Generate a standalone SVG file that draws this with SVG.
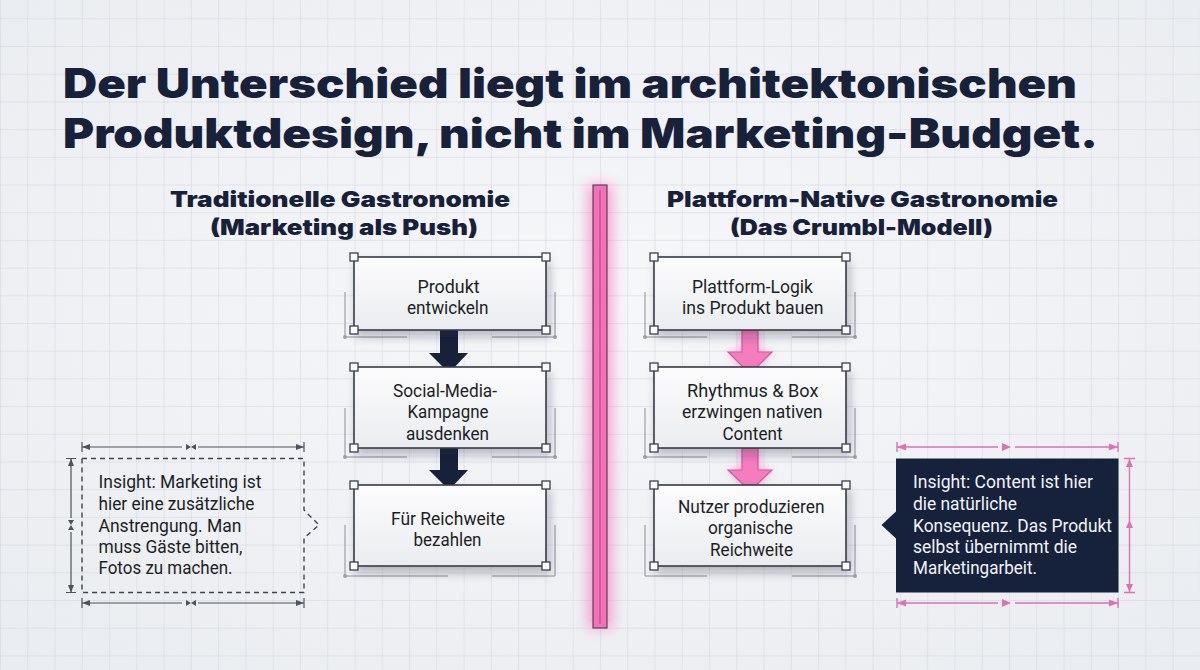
<svg xmlns="http://www.w3.org/2000/svg" width="1200" height="670" viewBox="0 0 1200 670">
<defs>
<pattern id="grid" width="27.27" height="27.7" patternUnits="userSpaceOnUse" x="0" y="18.3">
<path d="M0 0H27.27M0 0V27.7" fill="none" stroke="#d0d4db" stroke-width="1"/>
</pattern>
<radialGradient id="bg" cx="50%" cy="45%" r="75%">
<stop offset="0" stop-color="#f6f7f9"/>
<stop offset="1" stop-color="#e9ecf0"/>
</radialGradient>
<linearGradient id="boxfill" x1="0" y1="0" x2="0" y2="1">
<stop offset="0" stop-color="#fcfcfd"/>
<stop offset="1" stop-color="#eaecef"/>
</linearGradient>
<filter id="shadow" x="-20%" y="-20%" width="150%" height="160%">
<feDropShadow dx="3" dy="6" stdDeviation="5" flood-color="#1a2238" flood-opacity="0.28"/>
</filter>
<filter id="glow" x="-200%" y="-10%" width="500%" height="120%">
<feGaussianBlur stdDeviation="7"/>
</filter>
<filter id="aglow" x="-50%" y="-50%" width="200%" height="200%">
<feGaussianBlur stdDeviation="4"/>
</filter>
<style>
.title{font-family:Inter,"Liberation Sans",sans-serif;font-weight:900;font-size:41px;fill:#18213a}
.sub{font-family:Inter,"Liberation Sans",sans-serif;font-weight:900;font-size:21.5px;fill:#18213a}
.bt{font-family:Roboto,"Liberation Sans",sans-serif;font-size:19px;fill:#1c1f26}
.it{font-family:Roboto,"Liberation Sans",sans-serif;font-size:19px;fill:#1c1f26}
.itw{font-family:Roboto,"Liberation Sans",sans-serif;font-size:19px;fill:#f2f4f8}
.box{fill:url(#boxfill);stroke:#363b46;stroke-width:1.6}
.h{fill:#fafafa;stroke:#3a3f4a;stroke-width:1.3}
.dim{fill:none;stroke:#8a8f98;stroke-width:1}
.dimc{fill:#9aa0a8}
.gd{fill:none;stroke:#4d535e;stroke-width:1.2}
.gdf{fill:#4d535e}
.pd{fill:none;stroke:#e070b0;stroke-width:1.4}
.pdf{fill:#e070b0}
</style>
</defs>
<rect width="1200" height="670" fill="url(#bg)"/>
<rect width="1200" height="670" fill="url(#grid)"/>

<g id="title">
<text class="title" x="63" y="98" textLength="1014" lengthAdjust="spacingAndGlyphs">Der Unterschied liegt im architektonischen</text>
<text class="title" x="63" y="148" textLength="1035" lengthAdjust="spacingAndGlyphs">Produktdesign, nicht im Marketing-Budget.</text>
</g>

<g id="heading-left">
<text class="sub" x="170" y="206.5" textLength="340" lengthAdjust="spacingAndGlyphs">Traditionelle Gastronomie</text>
<text class="sub" x="210" y="235" textLength="268" lengthAdjust="spacingAndGlyphs">(Marketing als Push)</text>
</g>
<g id="heading-right">
<text class="sub" x="667" y="207" textLength="391" lengthAdjust="spacingAndGlyphs">Plattform-Native Gastronomie</text>
<text class="sub" x="730" y="235" textLength="263" lengthAdjust="spacingAndGlyphs">(Das Crumbl-Modell)</text>
</g>

<g id="divider">
<rect x="588" y="185" width="24" height="443" fill="#f26ab4" opacity="0.6" filter="url(#glow)"/>
<rect x="593" y="185" width="14" height="443" fill="#f072b8" stroke="#4a2a3d" stroke-width="1"/>
<line x1="600" y1="190" x2="600" y2="624" stroke="#d84a98" stroke-width="1.5"/>
</g>

<g id="decor-dimensions">
<path class="dim" d="M345 292V337H407M555 292V337H492"/>
<path class="dim" d="M345 408V457H407M555 408V457H492"/>
<path class="dim" d="M345 525V576H448M555 525V576H492"/>
<path class="dim" d="M645 292V337H707M855 292V337H792"/>
<path class="dim" d="M645 408V457H707M855 408V457H792"/>
<path class="dim" d="M645 525V576H707M855 525V576H792"/>
<g class="dimc">
<circle cx="345" cy="337" r="2"/><circle cx="555" cy="337" r="2"/>
<circle cx="345" cy="457" r="2"/><circle cx="555" cy="457" r="2"/>
<circle cx="345" cy="576" r="2"/>
<circle cx="645" cy="337" r="2"/><circle cx="855" cy="337" r="2"/>
<circle cx="645" cy="457" r="2"/><circle cx="855" cy="457" r="2"/>
<circle cx="855" cy="576" r="2"/>
</g>
</g>

<g id="connectors">
<path d="M440 330H458V353H468L449 373L429 353H440Z" fill="#18213a"/>
<path d="M440 448H458V470H468L449 490L429 470H440Z" fill="#18213a"/>
<path d="M742 330H758V352H772L750 374L728 352H742Z" fill="#f26ab4" opacity="0.6" filter="url(#aglow)"/>
<path d="M742 448H758V470H772L750 491L728 470H742Z" fill="#f26ab4" opacity="0.6" filter="url(#aglow)"/>
<path d="M742 330H758V352H772L750 374L728 352H742Z" fill="#f47cbf" stroke="#d9559f" stroke-width="1.2"/>
<path d="M742 448H758V470H772L750 491L728 470H742Z" fill="#f47cbf" stroke="#d9559f" stroke-width="1.2"/>
</g>

<g id="node-l1">
<rect class="box" x="354" y="257" width="192" height="73" filter="url(#shadow)"/>
<rect class="h" x="350" y="253" width="8" height="8"/><rect class="h" x="542" y="253" width="8" height="8"/>
<rect class="h" x="350" y="326" width="8" height="8"/><rect class="h" x="542" y="326" width="8" height="8"/>
<text class="bt" x="417.5" y="292.5" textLength="62" lengthAdjust="spacingAndGlyphs">Produkt</text>
<text class="bt" x="407" y="314" textLength="81.5" lengthAdjust="spacingAndGlyphs">entwickeln</text>
</g>
<g id="node-l2">
<rect class="box" x="354" y="367" width="192" height="81" filter="url(#shadow)"/>
<rect class="h" x="350" y="363" width="8" height="8"/><rect class="h" x="542" y="363" width="8" height="8"/>
<rect class="h" x="350" y="444" width="8" height="8"/><rect class="h" x="542" y="444" width="8" height="8"/>
<text class="bt" x="393" y="396.5" textLength="104" lengthAdjust="spacingAndGlyphs">Social-Media-</text>
<text class="bt" x="407.5" y="418" textLength="81" lengthAdjust="spacingAndGlyphs">Kampagne</text>
<text class="bt" x="406" y="439.5" textLength="83" lengthAdjust="spacingAndGlyphs">ausdenken</text>
</g>
<g id="node-l3">
<rect class="box" x="354" y="485" width="192" height="81" filter="url(#shadow)"/>
<rect class="h" x="350" y="481" width="8" height="8"/><rect class="h" x="542" y="481" width="8" height="8"/>
<rect class="h" x="350" y="562" width="8" height="8"/><rect class="h" x="542" y="562" width="8" height="8"/>
<text class="bt" x="391" y="524.5" textLength="114" lengthAdjust="spacingAndGlyphs">Für Reichweite</text>
<text class="bt" x="413.5" y="546" textLength="68" lengthAdjust="spacingAndGlyphs">bezahlen</text>
</g>

<g id="node-r1">
<rect class="box" x="654" y="257" width="192" height="73" filter="url(#shadow)"/>
<rect class="h" x="650" y="253" width="8" height="8"/><rect class="h" x="842" y="253" width="8" height="8"/>
<rect class="h" x="650" y="326" width="8" height="8"/><rect class="h" x="842" y="326" width="8" height="8"/>
<text class="bt" x="692" y="292.5" textLength="121" lengthAdjust="spacingAndGlyphs">Plattform-Logik</text>
<text class="bt" x="682" y="314" textLength="141.5" lengthAdjust="spacingAndGlyphs">ins Produkt bauen</text>
</g>
<g id="node-r2">
<rect class="box" x="654" y="367" width="192" height="81" filter="url(#shadow)"/>
<rect class="h" x="650" y="363" width="8" height="8"/><rect class="h" x="842" y="363" width="8" height="8"/>
<rect class="h" x="650" y="444" width="8" height="8"/><rect class="h" x="842" y="444" width="8" height="8"/>
<text class="bt" x="687" y="396.5" textLength="131.5" lengthAdjust="spacingAndGlyphs">Rhythmus &amp; Box</text>
<text class="bt" x="682" y="418" textLength="140.5" lengthAdjust="spacingAndGlyphs">erzwingen nativen</text>
<text class="bt" x="722.5" y="439.5" textLength="60" lengthAdjust="spacingAndGlyphs">Content</text>
</g>
<g id="node-r3">
<rect class="box" x="654" y="485" width="192" height="81" filter="url(#shadow)"/>
<rect class="h" x="650" y="481" width="8" height="8"/><rect class="h" x="842" y="481" width="8" height="8"/>
<rect class="h" x="650" y="562" width="8" height="8"/><rect class="h" x="842" y="562" width="8" height="8"/>
<text class="bt" x="678" y="512.5" textLength="146.5" lengthAdjust="spacingAndGlyphs">Nutzer produzieren</text>
<text class="bt" x="708" y="534" textLength="85" lengthAdjust="spacingAndGlyphs">organische</text>
<text class="bt" x="710" y="555.5" textLength="83" lengthAdjust="spacingAndGlyphs">Reichweite</text>
</g>

<g id="insight-left">
<path d="M82 458.5H304V510L319 525L304 538V592.5H82Z" fill="none" stroke="#3f4550" stroke-width="1.4" stroke-dasharray="5 4"/>
<path class="gd" d="M82 447H182M198 447H304M82 442V452M304 442V452"/>
<path class="gdf" d="M82 447L90 444V450ZM304 447L296 444V450ZM186 444L191 447L186 450ZM196 444L191 447L196 450Z"/>
<path class="gd" d="M82 603H182M198 603H304M82 598V608M304 598V608"/>
<path class="gdf" d="M82 603L90 600V606ZM304 603L296 600V606ZM186 600L191 603L186 606ZM196 600L191 603L196 606Z"/>
<path class="gd" d="M71 458.5V518M71 532V592.5M66 458.5H76M66 592.5H76"/>
<path class="gdf" d="M71 458.5L68 466H74ZM71 592.5L68 585H74ZM68 520L71 525L74 520ZM68 530L71 525L74 530Z"/>
<text class="it" x="98.5" y="488" textLength="163" lengthAdjust="spacingAndGlyphs">Insight: Marketing ist</text>
<text class="it" x="98.5" y="510" textLength="156" lengthAdjust="spacingAndGlyphs">hier eine zusätzliche</text>
<text class="it" x="98.5" y="531.5" textLength="143" lengthAdjust="spacingAndGlyphs">Anstrengung. Man</text>
<text class="it" x="98.5" y="553" textLength="144" lengthAdjust="spacingAndGlyphs">muss Gäste bitten,</text>
<text class="it" x="98.5" y="574" textLength="134" lengthAdjust="spacingAndGlyphs">Fotos zu machen.</text>
</g>

<g id="insight-right">
<path d="M896 458.5H1118.5V592.5H896V538.5L881.5 525L896 511.5Z" fill="#16213b"/>
<path class="pd" d="M897 447H998M1015 447H1118M897 442V452M1118 442V452"/>
<path class="pdf" d="M897 447L906 443.5V450.5ZM1118 447L1109 443.5V450.5ZM1002 443L1011 447L1002 451Z"/>
<path class="pd" d="M897 603H998M1015 603H1118M897 598V608M1118 598V608"/>
<path class="pdf" d="M897 603L906 599.5V606.5ZM1118 603L1109 599.5V606.5ZM1002 599L1011 603L1002 607Z"/>
<path class="pd" d="M1129.5 458.5V592.5M1124 458.5H1135M1124 592.5H1135"/>
<path class="pdf" d="M1129.5 459L1126 467H1133ZM1129.5 592L1126 584H1133ZM1129.5 520L1126 528H1133Z"/>
<text class="itw" x="913" y="488" textLength="180" lengthAdjust="spacingAndGlyphs">Insight: Content ist hier</text>
<text class="itw" x="913" y="510" textLength="104" lengthAdjust="spacingAndGlyphs">die natürliche</text>
<text class="itw" x="913" y="531.5" textLength="199" lengthAdjust="spacingAndGlyphs">Konsequenz. Das Produkt</text>
<text class="itw" x="913" y="553" textLength="164" lengthAdjust="spacingAndGlyphs">selbst übernimmt die</text>
<text class="itw" x="913" y="574" textLength="124" lengthAdjust="spacingAndGlyphs">Marketingarbeit.</text>
</g>
</svg>
